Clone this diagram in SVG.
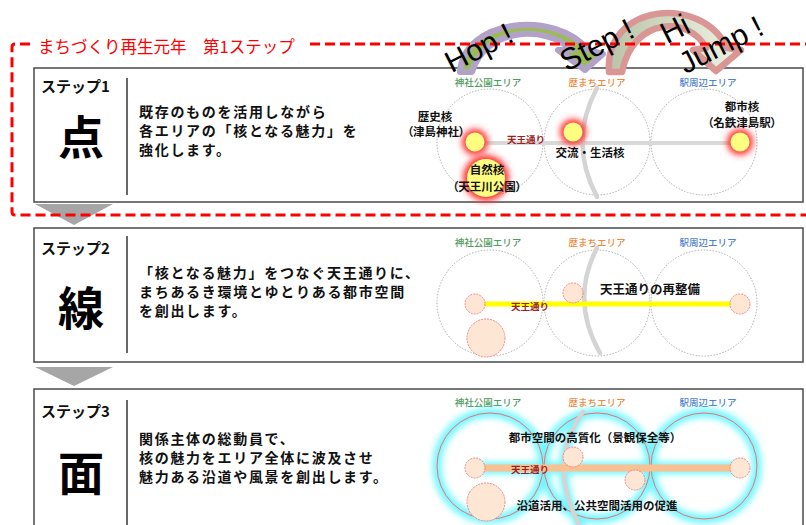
<svg xmlns="http://www.w3.org/2000/svg" width="806" height="525" viewBox="0 0 806 525">
<style>
text{font-family:"Noto Sans CJK JP","Noto Sans",sans-serif}
.panel{fill:#fff;stroke:#4a4a4a;stroke-width:1.5}
.div{stroke:#000;stroke-width:1.2}
.step{font-size:15px;font-weight:700;fill:#111}
.big{font-size:46px;font-weight:700;fill:#000;text-anchor:middle}
.body{font-size:14px;font-weight:700;fill:#111;letter-spacing:1.7px}
.area{font-size:9.5px;text-anchor:middle;font-weight:500}
.g{fill:#4f9a5c}.o{fill:#ee8a3c}.b{fill:#4f7fcf}
.dot{fill:none;stroke:#9a9a9a;stroke-width:0.8;stroke-dasharray:1.5 1.5}
.road{stroke:#d9d9d9;stroke-width:4;fill:none}
.arc{stroke:#d4d4d4;stroke-width:4.5;fill:none;stroke-linecap:round}
.nl{font-size:11.5px;font-weight:700;fill:#111;text-anchor:middle}
.np{font-size:11.5px;font-weight:700;fill:#111;text-anchor:middle;font-feature-settings:"palt" 1}
.tn{font-size:9.5px;font-weight:700;fill:#9c2222;text-anchor:middle}
.pe{fill:#fde6d3;stroke:#f07c7c;stroke-width:0.9;stroke-dasharray:2 1}
.lbl{font-size:12.5px;font-weight:700;fill:#111;text-anchor:middle}
.red{fill:none;stroke:#ff0000;stroke-width:3;stroke-dasharray:10 5}
.tri{fill:#a6a6a6}
.hop{font-family:"Liberation Sans",Arial,sans-serif;font-size:30px;fill:#000;text-anchor:middle}
</style>
<defs>
<filter id="bl" x="-60%" y="-60%" width="220%" height="220%"><feGaussianBlur stdDeviation="3"/></filter>
<filter id="bl2" x="-20%" y="-60%" width="140%" height="220%"><feGaussianBlur stdDeviation="2.5"/></filter>
<linearGradient id="jg" x1="0" y1="0" x2="1" y2="0"><stop offset="0" stop-color="#b9c4a8"/><stop offset="1" stop-color="#eef3e3"/></linearGradient>
</defs>

<g id="panel1">
<rect class="panel" x="34" y="68" width="769" height="134"/>
<line class="div" x1="127" y1="78" x2="127" y2="195"/>
<text class="step" x="41" y="92">ステップ1</text>
<text class="big" x="81" y="154">点</text>
<text class="body" x="139" y="117">既存のものを活用しながら</text>
<text class="body" x="139" y="136">各エリアの「核となる魅力」を</text>
<text class="body" x="139" y="155">強化します。</text>
</g>
<g id="panel2">
<rect class="panel" x="34" y="228" width="769" height="134"/>
<line class="div" x1="127" y1="236" x2="127" y2="353"/>
<text class="step" x="41" y="254">ステップ2</text>
<text class="big" x="81" y="325">線</text>
<text class="body" x="139" y="277.5">「核となる魅力」をつなぐ天王通りに、</text>
<text class="body" x="139" y="296.5">まちあるき環境とゆとりある都市空間</text>
<text class="body" x="139" y="315.5">を創出します。</text>
</g>
<g id="panel3">
<rect class="panel" x="34" y="389" width="769" height="150"/>
<line class="div" x1="127" y1="400" x2="127" y2="525"/>
<text class="step" x="41" y="417">ステップ3</text>
<text class="big" x="81" y="490">面</text>
<text class="body" x="139" y="443.5">関係主体の総動員で、</text>
<text class="body" x="139" y="462.5">核の魅力をエリア全体に波及させ</text>
<text class="body" x="139" y="481.5">魅力ある沿道や風景を創出します。</text>
</g>

<g id="connectors">
<polygon class="tri" points="35,204 113,204 74,225"/>
<polygon class="tri" points="35,367 113,367 74,386"/>
</g>

<g id="diagram1">
<text class="area g" x="488" y="85.5">神社公園エリア</text>
<text class="area o" x="597" y="85.5">歴まちエリア</text>
<text class="area b" x="708" y="85.5">駅周辺エリア</text>
<circle class="dot" cx="490" cy="142" r="53"/>
<circle class="dot" cx="597" cy="142" r="53"/>
<circle class="dot" cx="704" cy="142" r="53"/>
<line class="road" x1="475" y1="143" x2="740" y2="143"/>
<path class="arc" d="M597,88 Q568,142 597,197"/>
<g id="n-rekishi"><circle cx="475" cy="142" r="13" fill="#ff3333" filter="url(#bl)"/><circle cx="475" cy="142" r="9.5" fill="#ffff80"/></g>
<g id="n-koryu"><circle cx="573" cy="132" r="13" fill="#ff3333" filter="url(#bl)"/><circle cx="573" cy="132" r="9.5" fill="#ffff80"/></g>
<g id="n-toshi"><circle cx="740" cy="142" r="13" fill="#ff3333" filter="url(#bl)"/><circle cx="740" cy="142" r="9.5" fill="#ffff80"/></g>
<g id="n-shizen"><circle cx="486" cy="178" r="23" fill="#ff3333" filter="url(#bl)"/><circle cx="486" cy="178" r="19" fill="#ffff80"/></g>
<text class="nl" x="435" y="120.5">歴史核</text>
<text class="np" x="436" y="136">（津島神社）</text>
<text class="tn" x="526" y="142.5">天王通り</text>
<text class="nl" x="590" y="156.5">交流・生活核</text>
<text class="nl" x="742" y="111">都市核</text>
<text class="np" x="742" y="126.5">（名鉄津島駅）</text>
<text class="nl" x="487" y="174">自然核</text>
<text class="np" x="487" y="191">（天王川公園）</text>
</g>

<g id="diagram2">
<text class="area g" x="488" y="245.5">神社公園エリア</text>
<text class="area o" x="597" y="245.5">歴まちエリア</text>
<text class="area b" x="708" y="245.5">駅周辺エリア</text>
<circle class="dot" cx="490" cy="303" r="53"/>
<circle class="dot" cx="597" cy="303" r="53"/>
<circle class="dot" cx="704" cy="303" r="53"/>
<path class="arc" d="M597,248 Q570,300 600,353"/>
<line x1="475" y1="304" x2="740" y2="304" stroke="#ff7070" stroke-width="12" filter="url(#bl2)"/>
<line x1="475" y1="304" x2="740" y2="304" stroke="#ffff00" stroke-width="5"/>
<circle class="pe" cx="475" cy="304" r="10"/>
<circle class="pe" cx="573" cy="293" r="10"/>
<circle class="pe" cx="740" cy="304" r="10"/>
<circle class="pe" cx="486" cy="338" r="19"/>
<text class="tn" x="530" y="309.5">天王通り</text>
<text class="lbl" x="650" y="293.5">天王通りの再整備</text>
</g>

<g id="diagram3">
<text class="area g" x="488" y="405.5">神社公園エリア</text>
<text class="area o" x="597" y="405.5">歴まちエリア</text>
<text class="area b" x="708" y="405.5">駅周辺エリア</text>
<g filter="url(#bl)" fill="none" stroke="#55f5ff" stroke-width="9" opacity="0.85">
<circle cx="490" cy="466" r="53"/>
<circle cx="597" cy="466" r="53"/>
<circle cx="704" cy="466" r="53"/>
<line x1="475" y1="468" x2="740" y2="468" stroke-width="12"/>
<path d="M583,412 Q545,465 582,530"/>
</g>
<g fill="none" stroke="#f07070" stroke-width="1">
<circle cx="490" cy="466" r="53"/>
<circle cx="597" cy="466" r="53"/>
<circle cx="704" cy="466" r="53"/>
</g>
<path class="arc" d="M583,412 Q545,465 582,530"/>
<line x1="475" y1="468" x2="740" y2="468" stroke="#fac090" stroke-width="7"/>
<circle class="pe" cx="475" cy="468" r="10"/>
<circle class="pe" cx="573" cy="457" r="10"/>
<circle class="pe" cx="635" cy="480" r="10"/>
<circle class="pe" cx="740" cy="468" r="10"/>
<circle class="pe" cx="486" cy="502" r="19"/>
<text class="tn" x="530" y="472.5">天王通り</text>
<text class="nl" x="595" y="441.5">都市空間の高質化（景観保全等）</text>
<text class="nl" x="597" y="509.5">沿道活用、公共空間活用の促進</text>
</g>

<g id="hop-arrow">
<path d="M460,72 C464,18 556,10 588,50 L603,54 L585,70 L558,50 L572,50 C545,24 485,28 472,72 Z" fill="#9bbb59" stroke="#b2a2c8" stroke-width="6" stroke-linejoin="round"/>
</g>
<g id="jump-arrow">
<path d="M609,72 C604,3 702,-6 727,48 L741,50 L716,71 L693,50 L706,48 C690,16 633,16 622,72 Z" fill="url(#jg)" stroke="#d99694" stroke-width="6.5" stroke-linejoin="round"/>
</g>

<g id="year1-frame">
<path class="red" d="M30,44 H15 Q12,44 12,47 V212 Q12,215 15,215 H810"/>
<line class="red" x1="310" y1="44" x2="810" y2="44"/>
<text x="38" y="53" font-size="16.5" fill="#ff0000">まちづくり再生元年　第1ステップ</text>
</g>

<g id="hop-labels">
<text class="hop" transform="translate(479,48) rotate(-27)" y="10">Hop !</text>
<text class="hop" transform="translate(597,45) rotate(-27)" y="10">Step !</text>
<text class="hop" transform="translate(675,29) rotate(-27)" y="10">Hi</text>
<text class="hop" transform="translate(721,45) rotate(-27)" y="10">Jump !</text>
</g>
</svg>
